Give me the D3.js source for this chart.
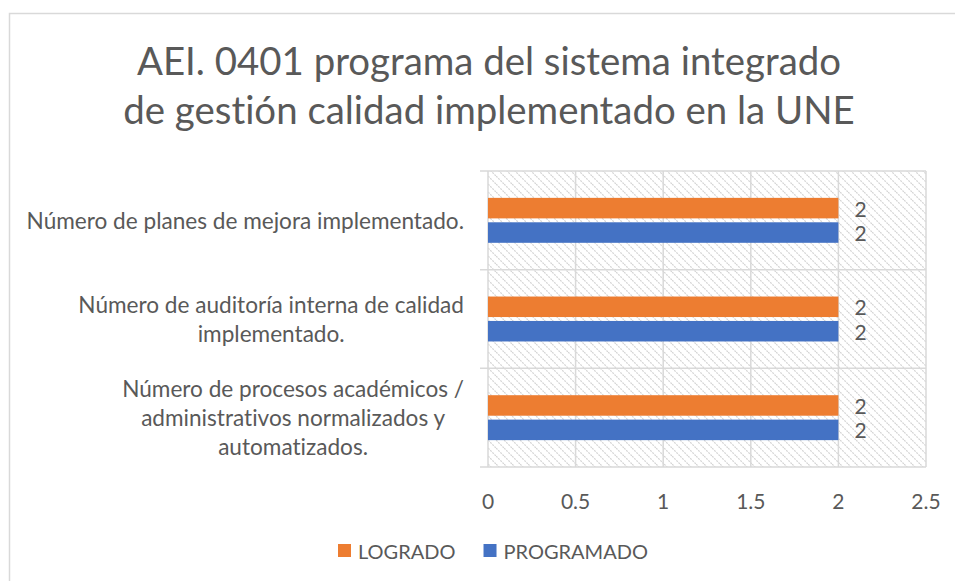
<!DOCTYPE html>
<html>
<head>
<meta charset="utf-8">
<script src="https://cdn.jsdelivr.net/npm/d3@7"></script>
<style>
  body { margin: 0; background: #fff; }
  text { font-family: Lato, "Open Sans", sans-serif; fill: #595959; font-variant-ligatures: none; }
</style>
</head>
<body>
<svg id="chart" width="955" height="581"></svg>
<script>
// chart data
const titleLines = ["AEI. 0401 programa del sistema integrado", "de gestión calidad implementado en la UNE"];
const categories = [
  ["Número de planes de mejora implementado."],
  ["Número de auditoría interna de calidad", "implementado."],
  ["Número de procesos académicos /", "administrativos normalizados y", "automatizados."]
];
const series = ["LOGRADO", "PROGRAMADO"];
const logrado = [2, 2, 2];
const programado = [2, 2, 2];
const xTicks = [0, 0.5, 1, 1.5, 2, 2.5];
const colors = ["#ED7D31", "#4472C4"];

const svg = d3.select("#chart");

// outer chart border (runs off the picture right & bottom)
svg.append("rect")
  .attr("x", 9.5).attr("y", 13.5)
  .attr("width", 1000).attr("height", 700)
  .attr("fill", "#fff")
  .attr("stroke", "#d9d9d9")
  .attr("stroke-width", 1.5);

// hatch fill for the plot area
const defs = svg.append("defs");
const pat = defs.append("pattern")
  .attr("id", "hatch")
  .attr("patternUnits", "userSpaceOnUse")
  .attr("width", 8).attr("height", 8);
pat.append("path")
  .attr("d", "M-2,-2 L10,10 M-2,6 L2,10 M6,-2 L10,2")
  .attr("stroke", "#d4d4d4")
  .attr("stroke-width", 1.2)
  .attr("stroke-dasharray", "2,1");

const pLeft = 488, pRight = 926, pTop = 171, pBottom = 467;

const x = d3.scaleLinear().domain([0, 2.5]).range([pLeft, pRight]);
const idx = categories.map((d, i) => i);
const y = d3.scaleBand().domain(idx).range([pTop, pBottom]);
const ySub = d3.scaleBand().domain(series)
  .range([0, y.bandwidth()])
  .paddingInner(0.16)
  .paddingOuter(1.1);

svg.append("rect")
  .attr("x", pLeft).attr("y", pTop)
  .attr("width", pRight - pLeft).attr("height", pBottom - pTop)
  .attr("fill", "url(#hatch)");

// title
svg.append("g").selectAll("text")
  .data(titleLines)
  .join("text")
  .attr("x", 489)
  .attr("y", (d, i) => 75 + i * 49)
  .attr("text-anchor", "middle")
  .attr("font-size", "38.4px")
  .text(d => d);

// vertical gridlines
svg.append("g").selectAll("line")
  .data(xTicks.slice(1))
  .join("line")
  .attr("x1", d => x(d)).attr("x2", d => x(d))
  .attr("y1", pTop).attr("y2", pBottom)
  .attr("stroke", "#d9d9d9").attr("stroke-width", 1.5);

// category separators + outward ticks
const bounds = idx.map(i => y(i)).concat([pBottom]);
svg.append("g").selectAll("line")
  .data(bounds)
  .join("line")
  .attr("x1", pLeft - 8).attr("x2", pRight)
  .attr("y1", d => d).attr("y2", d => d)
  .attr("stroke", "#d9d9d9").attr("stroke-width", 1.5);

svg.append("line")
  .attr("x1", pLeft).attr("x2", pLeft)
  .attr("y1", pTop).attr("y2", pBottom)
  .attr("stroke", "#d9d9d9").attr("stroke-width", 1.5);

// bars
const rows = [];
idx.forEach(i => {
  rows.push({ cat: i, s: series[0], v: logrado[i], c: colors[0] });
  rows.push({ cat: i, s: series[1], v: programado[i], c: colors[1] });
});

svg.append("g").selectAll("rect")
  .data(rows)
  .join("rect")
  .attr("x", x(0))
  .attr("y", d => y(d.cat) + ySub(d.s))
  .attr("width", d => x(d.v) - x(0))
  .attr("height", ySub.bandwidth())
  .attr("fill", d => d.c);

// data labels
svg.append("g").selectAll("text")
  .data(rows)
  .join("text")
  .attr("x", d => x(d.v) + 16)
  .attr("y", d => y(d.cat) + ySub(d.s) + ySub.bandwidth() / 2)
  .attr("dominant-baseline", "central")
  .attr("font-size", "21px")
  .text(d => d.v);

// category labels (centered block, right edge at axis)
const labG = svg.append("g");
categories.forEach((lines, i) => {
  const g = labG.append("g");
  const cy = y(i) + y.bandwidth() / 2;
  const t = g.selectAll("text")
    .data(lines)
    .join("text")
    .attr("y", (d, k) => cy + (k - (lines.length - 1) / 2) * 29)
    .attr("dominant-baseline", "central")
    .attr("text-anchor", "middle")
    .attr("font-size", "22.6px")
    .text(d => d);
  const w = d3.max(t.nodes(), n => n.getComputedTextLength());
  t.attr("x", 464 - w / 2);
});

// x axis labels
svg.append("g").selectAll("text")
  .data(xTicks)
  .join("text")
  .attr("x", d => x(d))
  .attr("y", 500)
  .attr("dominant-baseline", "central")
  .attr("text-anchor", "middle")
  .attr("font-size", "21px")
  .text(d => d);

// legend
const leg = svg.append("g").attr("transform", "translate(338,551)");
let lx = 0;
series.forEach((s, i) => {
  const g = leg.append("g").attr("transform", `translate(${lx},0)`);
  g.append("rect")
    .attr("x", 0).attr("y", -7)
    .attr("width", 13).attr("height", 13)
    .attr("fill", colors[i]);
  const t = g.append("text")
    .attr("x", 20).attr("y", 0)
    .attr("dominant-baseline", "central")
    .attr("font-size", "20px")
    .text(s);
  lx += 20 + t.node().getComputedTextLength() + 28;
});
</script>
</body>
</html>
